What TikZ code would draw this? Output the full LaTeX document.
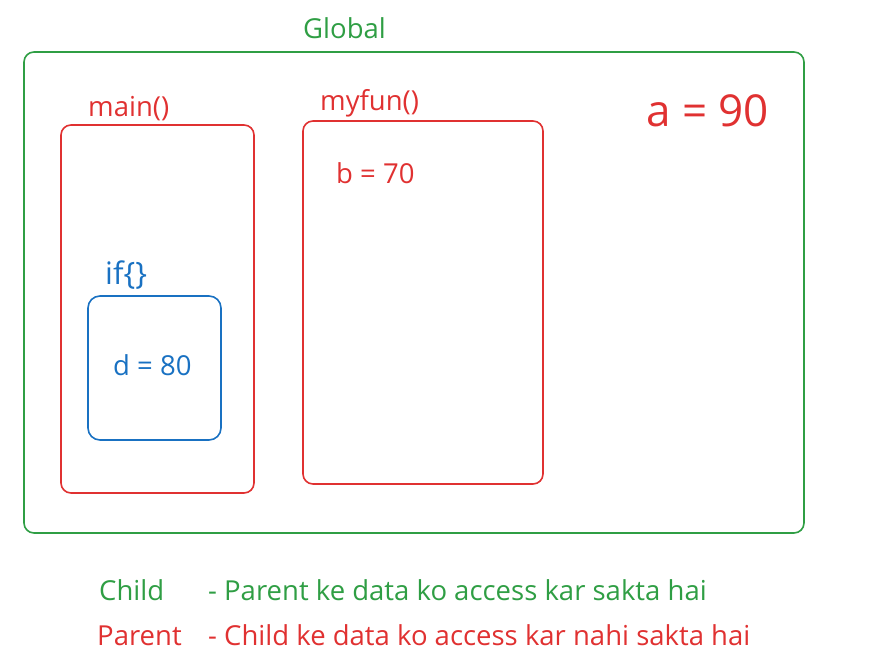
\documentclass[tikz,border=0pt]{standalone}
\usepackage{fontspec}
\setmainfont{Open Sans}
\definecolor{egreen}{HTML}{2F9E44}
\definecolor{ered}{HTML}{E03131}
\definecolor{eblue}{HTML}{1971C2}
\begin{document}
\begin{tikzpicture}[x=1pt,y=-1pt,
  scopebox/.style={draw, line width=1.6pt, rounded corners=10pt},
  lbl/.style={inner sep=0pt, anchor=base west, font=\fontsize{27.5}{32}\selectfont}]
\useasboundingbox (0,0) rectangle (884,671);
% boxes
\draw[scopebox, egreen] (24,52) rectangle (804,533);
\draw[scopebox, ered] (61,125) rectangle (254,493);
\draw[scopebox, ered] (303,121) rectangle (543,484);
\draw[scopebox, eblue, rounded corners=12pt] (88,296) rectangle (221,440);
% labels
\node[lbl, egreen] (global) at (303,39) {Global};
\node[lbl, ered] (mainl) at (88,117) {main()};
\node[lbl, ered] (myfunl) at (320,111) {myfun()};
\node[lbl, ered] (b) at (336,184) {b = 70};
\node[lbl, ered, font=\fontsize{44}{52}\selectfont] (a) at (646,127) {a = 90};
\node[lbl, eblue, font=\fontsize{31}{36}\selectfont] (ifl) at (105,285) {if\{\}};
\node[lbl, eblue] (d) at (113,375) {d = 80};
\node[lbl, egreen] (child) at (99,600) {Child};
\node[lbl, egreen] (childt) at (208,600) {- Parent ke data ko access kar sakta hai};
\node[lbl, ered] (parent) at (97,645) {Parent};
\node[lbl, ered] (parentt) at (208,645) {- Child ke data ko access kar nahi sakta hai};
\end{tikzpicture}
\end{document}
